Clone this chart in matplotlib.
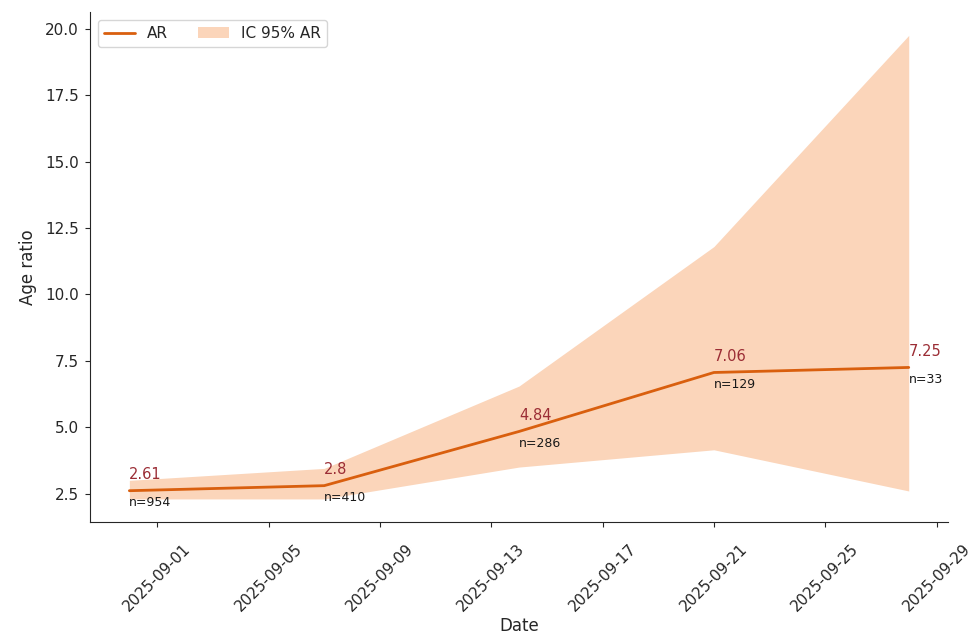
import matplotlib
matplotlib.use("Agg")
import matplotlib.pyplot as plt
import matplotlib.dates as mdates
import pandas as pd
import seaborn as sns

# weekly age ratio with 95% interval
dates = pd.to_datetime(['2025-08-31', '2025-09-07', '2025-09-14', '2025-09-21', '2025-09-28'])
ar = [2.61, 2.8, 4.84, 7.06, 7.25]
ic_low = [2.3, 2.3, 3.5, 4.15, 2.6]
ic_high = [3.0, 3.45, 6.55, 11.8, 19.75]
n = [954, 410, 286, 129, 33]

sns.set_style('ticks')

fig, ax = plt.subplots(figsize=(9.72, 6.43), dpi=100)
fig.subplots_adjust(left=0.093, right=0.975, bottom=0.188, top=0.981)

ax.plot(dates, ar, color='#d95f0e', linewidth=2, label='AR', zorder=3)
ax.fill_between(dates, ic_low, ic_high, color='#fbd5ba', label='IC 95% AR', linewidth=0)

for d, v, k in zip(dates, ar, n):
    ax.annotate(str(v), (d, v), xytext=(0, 6), textcoords='offset points',
                ha='left', va='bottom', color='#9b2d35', fontsize=10.5)
    ax.annotate(f'n={k}', (d, v), xytext=(0, -4), textcoords='offset points',
                ha='left', va='top', color='#1a1a1a', fontsize=9)

ax.xaxis.set_major_locator(mdates.DayLocator(bymonthday=[1, 5, 9, 13, 17, 21, 25, 29]))
ax.xaxis.set_major_formatter(mdates.DateFormatter('%Y-%m-%d'))
ax.tick_params(axis='x', pad=10)
ax.tick_params(axis='y', pad=5)
plt.setp(ax.get_xticklabels(), rotation=45, fontsize=11)
plt.setp(ax.get_yticklabels(), fontsize=11)

ax.set_xlabel('Date', fontsize=12, labelpad=2)
ax.set_ylabel('Age ratio', fontsize=12, labelpad=6)
ax.legend(loc='upper left', ncol=2, fontsize=11)
sns.despine(ax=ax)

fig.savefig('out.png', dpi=100)
